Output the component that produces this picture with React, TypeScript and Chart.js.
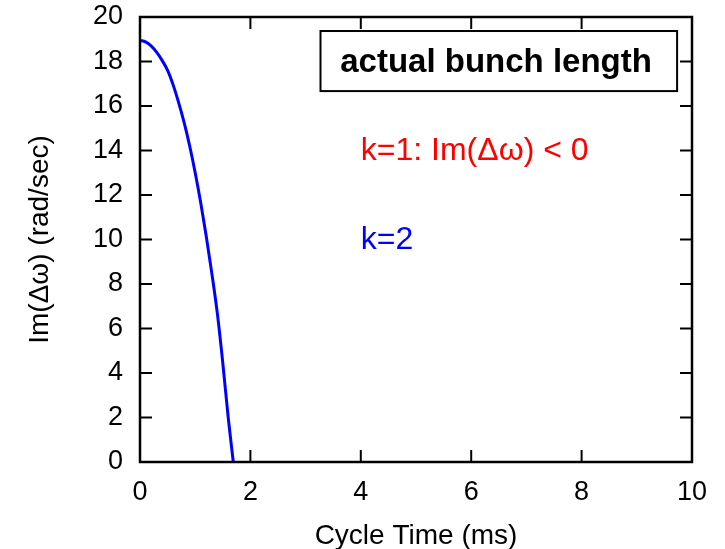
import React, { useEffect, useRef } from "react";
import { Chart, registerables } from "chart.js";

Chart.register(...registerables);

// ---- data ----
const cycleTimeMs = [0, 0.1, 0.2, 0.3, 0.4, 0.5, 0.6, 0.7, 0.8, 0.9, 1.0, 1.1, 1.2, 1.3, 1.4, 1.5, 1.6, 1.69];
const imDeltaOmega = [18.95, 18.88, 18.7, 18.42, 18.05, 17.6, 16.95, 16.15, 15.25, 14.2, 13.0, 11.65, 10.15, 8.5, 6.7, 4.45, 1.95, 0];

const xMin = 0;
const xMax = 10;
const xStep = 2;
const yMin = 0;
const yMax = 20;
const yStep = 2;

const xTitle = "Cycle Time (ms)";
const yTitle = "Im(\u0394\u03c9) (rad/sec)";
const boxLabel = "actual bunch length";
const noteK1 = "k=1: Im(\u0394\u03c9) < 0";
const noteK2 = "k=2";

const FONT = "'Liberation Sans', Arial, Helvetica, sans-serif";

const framePlugin = {
  id: "gnuplotFrame",
  afterDatasetsDraw(chart: any) {
    const { ctx, chartArea, scales } = chart;
    const { left, right, top, bottom } = chartArea;
    const xs = scales.x;
    const ys = scales.y;
    const tl = 12;
    ctx.save();
    ctx.strokeStyle = "#000";
    ctx.lineWidth = 2;
    ctx.beginPath();
    xs.ticks.forEach((t: any) => {
      const px = xs.getPixelForValue(t.value);
      ctx.moveTo(px, bottom);
      ctx.lineTo(px, bottom - tl);
      ctx.moveTo(px, top);
      ctx.lineTo(px, top + tl);
    });
    ys.ticks.forEach((t: any) => {
      const py = ys.getPixelForValue(t.value);
      ctx.moveTo(left, py);
      ctx.lineTo(left + tl, py);
      ctx.moveTo(right, py);
      ctx.lineTo(right - tl, py);
    });
    ctx.stroke();
    ctx.lineWidth = 2.5;
    ctx.strokeRect(left, top, right - left, bottom - top);

    // key box
    const bx0 = xs.getPixelForValue(3.27);
    const bx1 = xs.getPixelForValue(9.73);
    const by0 = ys.getPixelForValue(19.37);
    const by1 = ys.getPixelForValue(16.67);
    ctx.fillStyle = "#fff";
    ctx.fillRect(bx0, by0, bx1 - bx0, by1 - by0);
    ctx.lineWidth = 2;
    ctx.strokeRect(bx0, by0, bx1 - bx0, by1 - by0);
    ctx.fillStyle = "#000";
    ctx.font = `bold 33px ${FONT}`;
    ctx.textAlign = "center";
    ctx.textBaseline = "middle";
    ctx.fillText(boxLabel, xs.getPixelForValue(6.45), ys.getPixelForValue(17.95));

    // notes
    ctx.font = `32px ${FONT}`;
    ctx.textAlign = "left";
    ctx.fillStyle = "#ff0000";
    ctx.fillText(noteK1, xs.getPixelForValue(4.0), ys.getPixelForValue(13.95));
    ctx.fillStyle = "#0000ff";
    ctx.fillText(noteK2, xs.getPixelForValue(4.0), ys.getPixelForValue(9.95));
    ctx.restore();
  },
};

export default function App() {
  const ref = useRef<HTMLCanvasElement | null>(null);

  useEffect(() => {
    if (!ref.current) return;
    const points = cycleTimeMs.map((x, i) => ({ x, y: imDeltaOmega[i] }));
    const chart = new Chart(ref.current, {
      type: "line",
      data: {
        datasets: [
          {
            label: "k=2",
            data: points,
            borderColor: "#0000ff",
            backgroundColor: "#0000ff",
            borderWidth: 3,
            pointRadius: 0,
            fill: false,
            cubicInterpolationMode: "monotone",
          },
        ],
      },
      options: {
        animation: false,
        responsive: false,
        devicePixelRatio: 1,
        layout: { padding: { top: 17, right: 33, left: 0, bottom: 0 } },
        plugins: {
          legend: { display: false },
          tooltip: { enabled: false },
          title: { display: false },
        },
        scales: {
          x: {
            type: "linear",
            min: xMin,
            max: xMax,
            grid: { display: false, drawTicks: false },
            border: { display: false },
            ticks: {
              stepSize: xStep,
              color: "#000",
              padding: 14,
              maxRotation: 0,
              font: { family: FONT, size: 27 },
            },
            title: {
              display: true,
              text: xTitle,
              color: "#000",
              font: { family: FONT, size: 28, lineHeight: 0.9 },
              padding: { top: 0, bottom: 0 },
            },
            afterFit(scale: any) {
              scale.height = 87;
              scale.paddingLeft = 0;
              scale.paddingRight = 0;
            },
          },
          y: {
            type: "linear",
            min: yMin,
            max: yMax,
            grid: { display: false, drawTicks: false },
            border: { display: false },
            ticks: {
              stepSize: yStep,
              color: "#000",
              padding: 17,
              font: { family: FONT, size: 27 },
            },
            title: {
              display: true,
              text: yTitle,
              color: "#000",
              font: { family: FONT, size: 28, lineHeight: 1.2 },
              padding: { top: 23, bottom: 0 },
            },
            afterFit(scale: any) {
              scale.width = 140;
              scale.paddingTop = 0;
              scale.paddingBottom = 0;
            },
          },
        },
      },
      plugins: [framePlugin],
    });
    return () => chart.destroy();
  }, []);

  return (
    <div style={{ position: "absolute", left: 0, top: 0, width: 725, height: 549, background: "#fff" }}>
      <canvas ref={ref} width={725} height={549} />
    </div>
  );
}
